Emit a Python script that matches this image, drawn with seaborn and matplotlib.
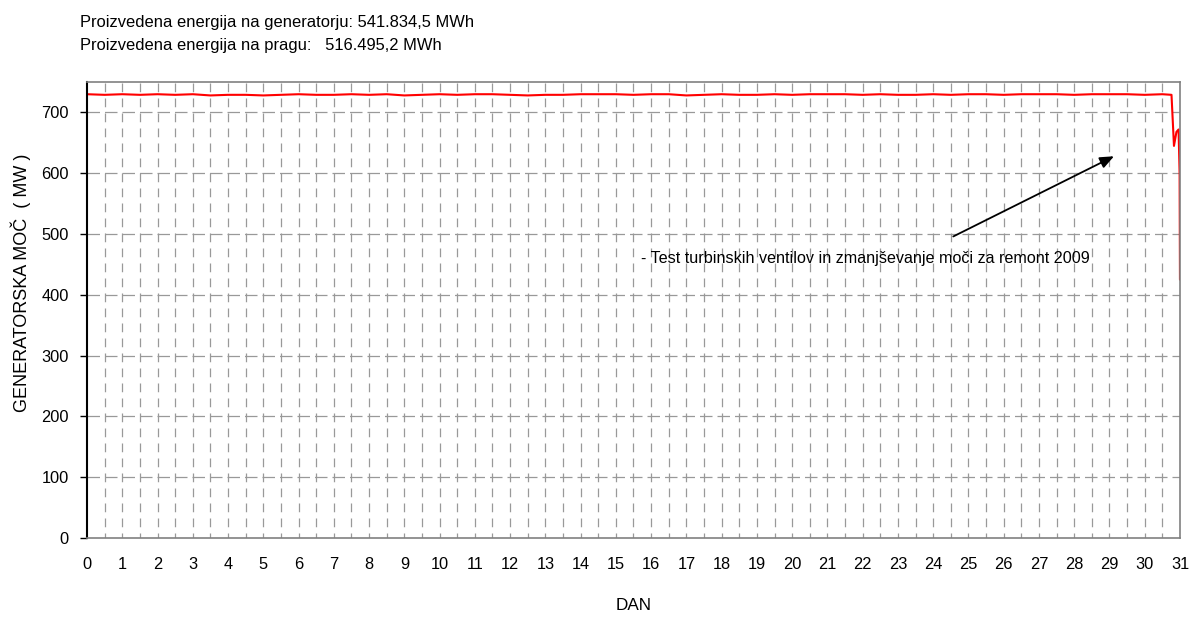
import matplotlib
matplotlib.use("Agg")
import numpy as np
import pandas as pd
import seaborn as sns
import matplotlib.pyplot as plt

# Half-day samples of generator power (MW), plus the drop at the end of the month
dan = [0.0, 0.5, 1.0, 1.5, 2.0, 2.5, 3.0, 3.5, 4.0, 4.5, 5.0, 5.5, 6.0, 6.5,
       7.0, 7.5, 8.0, 8.5, 9.0, 9.5, 10.0, 10.5, 11.0, 11.5, 12.0, 12.5,
       13.0, 13.5, 14.0, 14.5, 15.0, 15.5, 16.0, 16.5, 17.0, 17.5, 18.0,
       18.5, 19.0, 19.5, 20.0, 20.5, 21.0, 21.5, 22.0, 22.5, 23.0, 23.5,
       24.0, 24.5, 25.0, 25.5, 26.0, 26.5, 27.0, 27.5, 28.0, 28.5, 29.0,
       29.5, 30.0, 30.5, 30.76, 30.83, 30.9, 30.96, 30.99, 31.0]
moc = [730, 729, 730, 729, 730, 729, 730, 728, 729, 729, 728, 729, 730, 729,
       729, 730, 729, 730, 728, 729, 730, 729, 730, 730, 729, 728,
       729, 729, 730, 730, 730, 729, 730, 730, 728, 729, 730,
       729, 729, 730, 729, 730, 730, 730, 729, 730, 729, 729,
       730, 729, 730, 730, 729, 730, 730, 730, 729, 730, 730,
       730, 729, 730, 729, 645, 668, 672, 600, 425]

yticks = [0, 100, 200, 300, 400, 500, 600, 700]
xticks = list(range(0, 32))

energija_gen = "541.834,5 MWh"
energija_prag = "516.495,2 MWh"
opomba = "- Test turbinskih ventilov in zmanjševanje moči za remont 2009"

df = pd.DataFrame({"dan": dan, "moc": moc})

sns.set_style("white")
plt.rcParams["font.family"] = ["Liberation Sans", "DejaVu Sans"]
plt.rcParams["text.color"] = "black"
plt.rcParams["axes.labelcolor"] = "black"
plt.rcParams["xtick.color"] = "black"
plt.rcParams["ytick.color"] = "black"

fig = plt.figure(figsize=(11.89, 6.17), dpi=100)
ax = fig.add_axes([0.0732, 0.128, 0.9192, 0.739])

# dashed grid every half day and every 100 MW
for xv in np.arange(0.5, 31, 0.5):
    ax.axvline(xv, color="#999999", lw=0.9, ls=(3, (7, 5)), zorder=0)
for yv in yticks[1:]:
    ax.axhline(yv, color="#999999", lw=0.9, ls=(0, (10, 4)), zorder=0)

sns.lineplot(data=df, x="dan", y="moc", color="#ff0000", lw=1.5, ax=ax)

ax.set_xlim(0, 31)
ax.set_ylim(0, 750)
ax.set_xticks(xticks)
ax.set_yticks(yticks)
ax.tick_params(axis="x", length=0, pad=14, labelsize=11.8)
ax.tick_params(axis="y", length=5, width=1, direction="out", left=True, labelsize=11.8, pad=8)
ax.set_xlabel("DAN", fontsize=12.3, va="center")
ax.xaxis.set_label_coords(0.5, -0.147)
ax.set_ylabel("GENERATORSKA MOČ  ( MW )", fontsize=13, va="center")
ax.yaxis.set_label_coords(-0.0604, 0.56)

for s in ["top", "right", "bottom"]:
    ax.spines[s].set_color("#808080")
    ax.spines[s].set_linewidth(1.2)
ax.spines["left"].set_color("black")
ax.spines["left"].set_linewidth(1.5)

ax.annotate("", xy=(29.2, 630), xytext=(24.5, 494),
            arrowprops=dict(arrowstyle="-|>,head_length=0.6,head_width=0.25",
                            color="black", lw=1.3, mutation_scale=14))
ax.text(15.7, 460, opomba, fontsize=11.6, va="center", ha="left")

fig.text(0.0673, 0.963, "Proizvedena energija na generatorju: " + energija_gen,
         fontsize=11.85, va="center")
fig.text(0.0673, 0.927, "Proizvedena energija na pragu:   " + energija_prag,
         fontsize=11.85, va="center")

fig.savefig("out.png", dpi=100)
